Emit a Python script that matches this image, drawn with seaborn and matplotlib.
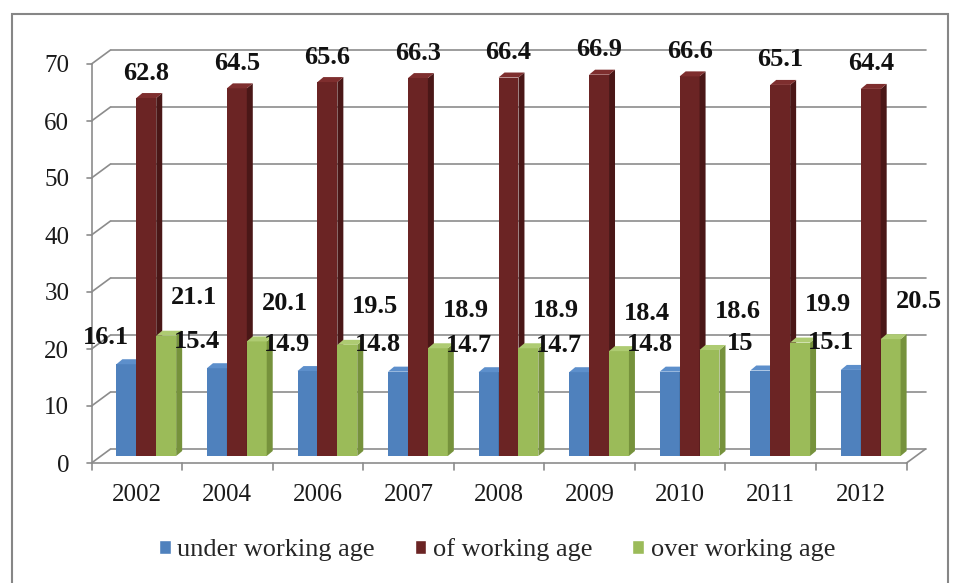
import numpy as np
import pandas as pd
import matplotlib
matplotlib.use("Agg")
import matplotlib.pyplot as plt
from matplotlib.patches import Polygon, Rectangle
from matplotlib.lines import Line2D
from matplotlib.transforms import IdentityTransform, ScaledTranslation
import seaborn as sns

# === data ===
years = ['2002', '2004', '2006', '2007', '2008', '2009', '2010', '2011', '2012']
under_age = [16.1, 15.4, 14.9, 14.8, 14.7, 14.7, 14.8, 15, 15.1]
working_age = [62.8, 64.5, 65.6, 66.3, 66.4, 66.9, 66.6, 65.1, 64.4]
over_age = [21.1, 20.1, 19.5, 18.9, 18.9, 18.4, 18.6, 19.9, 20.5]
series = ['under working age', 'of working age', 'over working age']
colors = ['#4F81BD', '#6B2424', '#9BBB59']
side_colors = ['#3A6696', '#4A1717', '#76923C']
top_colors = ['#5D8FCB', '#7E2E2E', '#AECB72']

df = pd.DataFrame({
    'Year': years * 3,
    'Share': under_age + working_age + over_age,
    'Group': [s for s in series for _ in years],
})

sns.set_style('white')
plt.rcParams['font.family'] = ['Liberation Serif', 'DejaVu Serif']

W, H = 960, 583
fig = plt.figure(figsize=(W / 100, H / 100), dpi=100)

# mid plane of the pseudo-3D box, in pixels
left, right, y0, y70 = 101, 916, 456, 57
ax = fig.add_axes([left / W, (H - y0) / H, (right - left) / W, (y0 - y70) / H])

sns.barplot(data=df, x='Year', y='Share', hue='Group', order=years,
            hue_order=series, palette=colors, saturation=1, width=0.66,
            linewidth=0, ax=ax, legend=False)
ax.set_ylim(0, 70)
ax.set_xlim(-0.5, len(years) - 0.5)
ax.set_xlabel('')
ax.set_ylabel('')
for s in ax.spines.values():
    s.set_visible(False)
ax.set_yticks(np.arange(0, 71, 10))
ax.tick_params(axis='both', length=0, labelsize=18, colors='#1a1a1a')
ax.tick_params(axis='y', pad=16)
ax.tick_params(axis='x', pad=15)
ax.patch.set_alpha(0)

ident = IdentityTransform()
dx_box, dy_box = 9.5, 7  # half depth of the box in px
gray = '#8C8C8C'

def to_disp(x, y):
    return ax.transData.transform((x, y))

def line(xs, ys):
    fig.add_artist(Line2D(xs, ys, color=gray, lw=1.2, transform=ident, zorder=0))

# back wall gridlines, left wall diagonals, front axis ticks
xl = ax.transAxes.transform((0, 0))[0]
xr = ax.transAxes.transform((1, 0))[0]
for t in np.arange(0, 71, 10):
    yy = to_disp(0, t)[1]
    line([xl + dx_box, xr + dx_box], [yy + dy_box, yy + dy_box])
    line([xl - dx_box, xl + dx_box], [yy - dy_box, yy + dy_box])
    line([xl - dx_box - 5, xl - dx_box], [yy - dy_box, yy - dy_box])
yb = to_disp(0, 0)[1]
yt = to_disp(0, 70)[1]
line([xl - dx_box, xl - dx_box], [yb - dy_box, yt - dy_box])
line([xl - dx_box, xr - dx_box], [yb - dy_box, yb - dy_box])
line([xr - dx_box, xr + dx_box], [yb - dy_box, yb + dy_box])
for i in range(len(years) + 1):
    xx = to_disp(i - 0.5, 0)[0] - dx_box
    line([xx, xx], [yb - dy_box, yb - dy_box - 7])

# shift tick labels to the front plane
shift = ScaledTranslation(-dx_box / 100, -dy_box / 100, fig.dpi_scale_trans)
for lab in ax.get_yticklabels() + ax.get_xticklabels():
    lab.set_transform(lab.get_transform() + shift)

# 3D faces for the bars
bars = []
for k, cont in enumerate(ax.containers):
    for p in cont.patches:
        bars.append((p.get_x(), k, p))
bars.sort(key=lambda b: b[0])
z = 2
for _, k, p in bars:
    bb = p.get_window_extent()
    x0, x1, b0, b1 = bb.x0, bb.x1, bb.y0, bb.y1
    dx, dy = 6, 5
    p.set_zorder(z)
    side = Polygon([(x1, b0), (x1 + dx, b0 + dy), (x1 + dx, b1 + dy), (x1, b1)],
                   closed=True, facecolor=side_colors[k], edgecolor='none',
                   transform=ident, zorder=z)
    top = Polygon([(x0, b1), (x0 + dx, b1 + dy), (x1 + dx, b1 + dy), (x1, b1)],
                  closed=True, facecolor=top_colors[k], edgecolor='none',
                  transform=ident, zorder=z)
    ax.add_artist(side)
    ax.add_artist(top)
    z += 1

# data labels
offsets = [(-20, 27), (0, 25), (28, 38)]
for k, cont in enumerate(ax.containers):
    for p in cont.patches:
        v = p.get_height()
        ax.annotate(f'{v:g}', (p.get_x() + p.get_width() / 2, v),
                    xytext=offsets[k], textcoords='offset pixels',
                    ha='center', va='center', fontsize=19, fontweight='bold',
                    color='#111111', zorder=50, annotation_clip=False)

# legend
handles = [Rectangle((0, 0), 1, 1, facecolor=c) for c in colors]
fig.legend(handles, series, loc='center', bbox_to_anchor=(497 / W, 1 - 550 / H),
           ncol=3, frameon=False, fontsize=19, handlelength=0.45, handleheight=0.45,
           handletextpad=0.25, columnspacing=1.5)

# chart border
fig.add_artist(Rectangle((12 / W, -0.01), 936 / W, 1 - 14 / H + 0.01,
                         transform=fig.transFigure, fill=False,
                         edgecolor='#868686', lw=1.5))

fig.savefig('out.png', dpi=100)
